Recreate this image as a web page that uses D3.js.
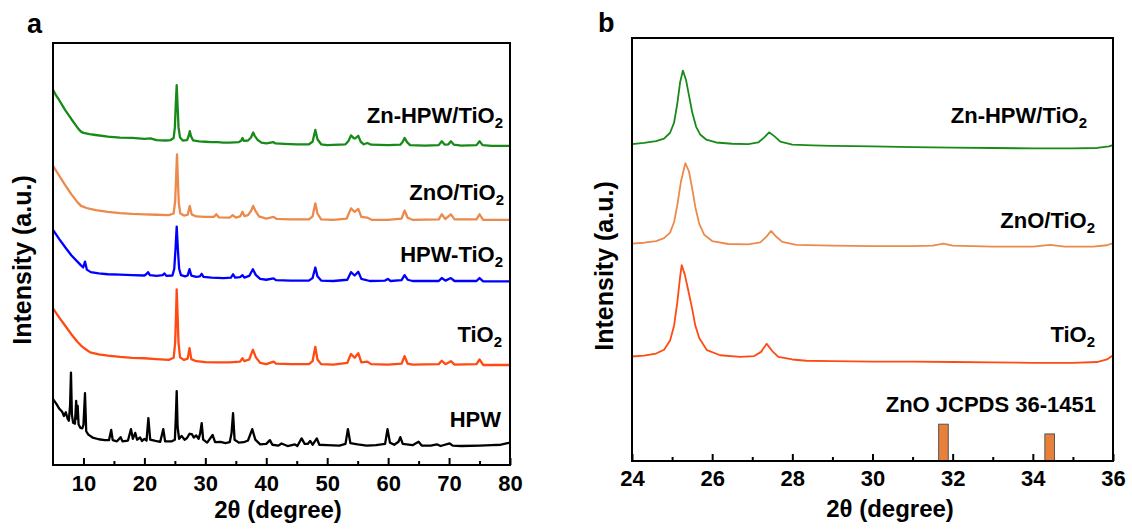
<!DOCTYPE html>
<html>
<head>
<meta charset="utf-8">
<script src="https://cdn.jsdelivr.net/npm/d3@7"></script>
<style>
  body { margin: 0; background: #fff; }
  svg { display: block; }
  text { font-family: Arial, "Liberation Sans", sans-serif; font-weight: bold; fill: #000; }
</style>
</head>
<body>
<div id="chart"></div>
<script>
// ---- panel a: wide scan, 5-80 deg (2theta, intensity a.u.) ----
const hpwA = [[5,15.6],[5.5,14.6],[6,13.4],[6.5,12.6],[6.8,11.6],[7.1,12.5],[7.4,11.0],[7.6,10.5],[7.8,14.0],[7.95,21.9],[8.1,12.0],[8.3,10.0],[8.6,9.8],[8.8,15.2],[8.95,11.0],[9.05,14.0],[9.2,9.6],[9.5,8.8],[9.8,8.7],[10.0,9.5],[10.25,17.0],[10.45,8.0],[10.8,7.2],[11.5,6.5],[12.5,6.1],[13.5,5.9],[14.2,5.9],[14.55,8.3],[14.8,5.9],[15.5,5.6],[16.1,6.6],[16.4,5.6],[17.3,5.8],[17.8,8.5],[18.1,6.2],[18.5,7.6],[18.8,6.0],[19.3,6.5],[19.6,5.7],[20.0,6.2],[20.35,5.8],[20.65,11.1],[20.95,6.0],[21.8,5.7],[22.6,5.5],[23.1,8.5],[23.4,5.6],[24.5,5.6],[25.0,6.0],[25.15,11.0],[25.3,17.5],[25.45,9.0],[25.7,6.2],[26.1,6.9],[26.6,6.0],[27.0,6.4],[27.4,7.4],[27.8,7.3],[28.1,6.5],[28.5,7.0],[28.9,6.2],[29.15,7.5],[29.4,9.9],[29.65,6.0],[30.3,5.3],[31.2,7.1],[31.6,5.4],[32.5,5.5],[33.3,5.2],[34.0,5.4],[34.3,7.5],[34.55,12.3],[34.8,6.0],[35.5,5.3],[36.3,5.4],[37.0,5.8],[37.7,8.5],[38.2,6.0],[39.0,4.9],[40.0,5.0],[40.6,5.9],[41.0,4.8],[42.0,4.6],[42.5,5.1],[43.5,4.5],[44.7,4.9],[45.1,4.5],[45.8,6.3],[46.3,5.0],[46.8,5.0],[47.2,5.7],[47.6,4.8],[48.3,6.3],[48.7,4.8],[50,4.7],[52,4.6],[53.0,5.0],[53.4,8.5],[53.8,5.2],[55,4.9],[56.5,4.6],[58,4.7],[59.5,5.0],[59.9,8.5],[60.3,5.3],[61.0,4.8],[61.7,5.5],[62.0,6.6],[62.4,5.0],[64,4.7],[65.0,5.5],[65.5,4.6],[67,4.6],[68.0,4.9],[68.6,4.5],[70.1,5.1],[70.6,4.6],[72,4.5],[75,4.6],[77,4.7],[78.5,4.8],[80,5.3]];

const tio2A = [[5,37.1],[6,35.0],[7,33.0],[8,31.0],[9,29.2],[9.6,28.3],[10.2,27.6],[11.1,26.7],[12.5,26.2],[14,25.9],[16,25.6],[18,25.4],[20,25.3],[22,25.1],[24,24.9],[24.8,25.4],[25.05,29.0],[25.2,36.0],[25.3,41.6],[25.45,35.5],[25.6,29.0],[25.85,25.5],[26.5,24.9],[27.1,25.2],[27.4,27.7],[27.7,25.1],[28.5,24.6],[30,24.4],[32,24.3],[34,24.3],[35.7,24.5],[36.1,25.3],[36.4,24.6],[37.2,25.0],[37.8,27.3],[38.3,25.5],[39,24.2],[40,23.9],[41.2,24.5],[41.6,24.0],[44,23.9],[47,23.9],[47.6,24.6],[48.05,28.0],[48.4,25.0],[49,23.9],[51,23.8],[53.3,24.2],[53.9,26.3],[54.5,25.4],[55.1,26.5],[55.6,24.3],[56.6,24.5],[57.2,23.9],[60,23.8],[62.2,24.0],[62.7,25.8],[63.2,24.0],[64,23.8],[68.3,23.9],[68.8,24.7],[69.4,23.9],[70.3,24.6],[70.9,23.8],[74.5,23.9],[75,25.0],[75.6,23.7],[80,23.7]];

const hpwTio2A = [[5,55.7],[6,53.6],[7,51.6],[8,49.7],[9,48.2],[9.6,47.3],[9.95,46.8],[10.25,48.2],[10.55,46.3],[11.2,45.7],[12.5,45.4],[14,45.2],[16,45.1],[18,45.0],[20,44.9],[20.3,45.2],[20.6,45.7],[20.9,45.0],[22,44.8],[23,45.0],[23.3,45.4],[23.6,44.8],[24.6,44.9],[24.9,46.5],[25.1,51.0],[25.3,56.5],[25.5,51.0],[25.7,46.5],[26,45.0],[26.7,44.7],[27.1,44.9],[27.4,46.4],[27.7,44.9],[28.5,44.6],[29.1,44.7],[29.4,45.3],[29.7,44.6],[31,44.4],[33,44.3],[34.2,44.4],[34.55,45.2],[34.9,44.4],[35.7,44.5],[36.1,45.0],[36.4,44.4],[37.2,44.8],[37.8,46.4],[38.3,45.0],[39,44.1],[40,43.9],[41.2,44.2],[41.6,43.8],[44,43.7],[47,43.7],[47.6,44.3],[48.05,46.8],[48.4,44.7],[49,43.7],[51,43.6],[53.3,43.9],[53.9,45.7],[54.5,44.9],[55.1,45.8],[55.6,44.1],[57,43.6],[59.5,43.7],[59.95,44.1],[60.4,43.6],[62.2,43.8],[62.7,45.0],[63.2,43.9],[64,43.6],[68.3,43.6],[68.8,44.3],[69.4,43.7],[70.3,44.3],[70.9,43.6],[74.5,43.6],[75,44.3],[75.6,43.5],[80,43.5]];

const znoTio2A = [[5,70.9],[6,68.6],[7,66.3],[8,64.2],[9,62.3],[9.6,61.4],[10.5,60.9],[12,60.4],[14,60.0],[16,59.7],[18,59.5],[20,59.4],[22,59.3],[24,59.2],[24.8,59.6],[25.05,62.5],[25.2,68.0],[25.35,73.6],[25.5,67.5],[25.65,62.0],[25.9,59.6],[26.5,59.1],[27.1,59.3],[27.45,61.4],[27.75,59.4],[28.5,58.9],[30,58.8],[31.4,58.8],[31.8,59.4],[32.2,58.7],[34,58.6],[34.5,59.2],[35,58.6],[35.7,58.9],[36.1,60.0],[36.4,59.0],[37,59.2],[37.5,60.2],[37.85,61.4],[38.2,60.3],[38.8,58.9],[40,58.4],[41.2,58.8],[41.7,58.3],[44,58.2],[47,58.2],[47.6,58.9],[48.05,62.0],[48.4,59.6],[49,58.2],[51,58.1],[53.2,58.4],[53.9,60.8],[54.5,60.0],[55.1,60.7],[55.6,58.8],[56.6,58.6],[57.3,58.1],[60,58.1],[62.2,58.4],[62.7,60.3],[63.2,58.6],[64,58.1],[68.3,58.2],[68.8,59.4],[69.4,58.3],[70.3,59.4],[70.9,58.2],[74.5,58.2],[75,59.4],[75.6,58.1],[80,58.1]];

const znHpwTio2A = [[5,88.9],[5.5,87.6],[6,86.5],[7,84.1],[8,82.0],[8.7,80.6],[9.2,79.6],[9.6,79.0],[10,78.7],[11,78.4],[12,78.2],[14,77.8],[16,77.6],[18,77.5],[20,77.3],[21,77.4],[22,77.0],[23.5,76.9],[24.3,77.0],[24.8,77.5],[25.0,80.0],[25.15,85.5],[25.3,90.0],[25.45,85.0],[25.6,80.0],[25.85,77.6],[26.3,76.9],[27.0,77.0],[27.25,77.9],[27.45,79.1],[27.65,77.9],[28,76.9],[29,76.7],[30,76.6],[31,76.5],[32,76.5],[33,76.4],[34,76.4],[35.5,76.5],[35.9,76.9],[36.1,77.5],[36.3,76.8],[37,76.9],[37.5,77.6],[37.85,78.8],[38.1,78.0],[38.6,77.0],[39.2,76.4],[40,76.2],[41.2,76.5],[41.5,76.2],[43,76.1],[45,76.0],[47,76.0],[47.6,76.6],[48.05,79.4],[48.4,77.2],[49,76.0],[50,75.8],[53,76.0],[53.5,76.8],[53.9,78.1],[54.4,77.4],[54.6,77.4],[55.1,78.0],[55.5,76.6],[56,76.0],[56.6,76.3],[57.2,75.9],[60,75.8],[62,75.9],[62.4,76.6],[62.7,77.5],[63.1,76.5],[63.6,75.8],[66,75.7],[68.3,75.8],[68.8,76.7],[69.3,75.9],[69.9,76.0],[70.3,76.7],[70.8,75.9],[72,75.7],[74.5,75.8],[75,76.7],[75.5,75.8],[77,75.6],[80,75.6]];

// ---- panel b: narrow scan, 24-36 deg ----
const tio2B = [[24.0,24.7],[24.3,24.9],[24.6,25.4],[24.8,26.3],[24.95,28.5],[25.05,32.0],[25.13,37.5],[25.2,43.5],[25.24,46.3],[25.32,44.0],[25.4,40.5],[25.49,36.5],[25.58,32.0],[25.68,29.0],[25.87,26.2],[26.2,25.0],[26.7,24.6],[27.05,24.8],[27.22,25.8],[27.36,27.7],[27.5,26.0],[27.65,24.6],[28.0,24.0],[28.35,23.7],[29,23.6],[30,23.5],[31,23.5],[32,23.4],[33,23.3],[34,23.2],[35,23.2],[35.6,23.4],[35.85,24.0],[36,25.0]];

const znoTio2B = [[24.0,51.4],[24.3,51.6],[24.6,52.0],[24.8,52.7],[24.95,54.0],[25.05,56.5],[25.13,60.5],[25.22,66.0],[25.33,70.4],[25.42,68.5],[25.5,64.5],[25.58,60.0],[25.68,56.0],[25.8,53.5],[26.0,52.0],[26.4,51.3],[26.9,51.2],[27.2,51.7],[27.35,53.0],[27.47,54.4],[27.6,53.0],[27.75,51.8],[28.1,51.1],[29,50.9],[30,50.8],[31,50.8],[31.5,50.9],[31.77,51.4],[32.0,50.9],[33,50.7],[34,50.7],[34.43,51.1],[34.8,50.7],[35.5,50.7],[35.85,51.0],[36,51.5]];

const znHpwTio2B = [[24.0,74.9],[24.3,75.2],[24.6,75.6],[24.8,76.2],[24.95,77.6],[25.05,80.0],[25.13,84.5],[25.2,89.5],[25.27,92.3],[25.35,90.0],[25.42,86.5],[25.5,82.5],[25.6,79.0],[25.7,77.2],[25.85,76.0],[26.1,75.3],[26.5,75.0],[26.9,74.9],[27.15,75.3],[27.3,76.5],[27.42,77.7],[27.55,76.8],[27.7,75.5],[28.0,74.8],[28.5,74.6],[29,74.5],[30,74.4],[31,74.2],[32,74.1],[33,74.0],[34,73.9],[35,73.9],[35.6,74.0],[35.9,74.4],[36,74.7]];

// ZnO reference pattern (JCPDS 36-1451)
const znoRefPos = [31.77, 34.42];
const znoRefInt = [8.7, 6.4];

const majorA = [10, 20, 30, 40, 50, 60, 70, 80];
const minorA = [15, 25, 35, 45, 55, 65, 75];
const majorB = [24, 26, 28, 30, 32, 34, 36];
const minorB = [25, 27, 29, 31, 33, 35];

const svg = d3.select('#chart').append('svg')
    .attr('width', 1132)
    .attr('height', 529);

function addLabel(g, x, y, name, sub, size) {
    const t = g.append('text')
        .attr('x', x)
        .attr('y', y)
        .attr('text-anchor', 'end')
        .attr('font-size', size);
    t.append('tspan').text(name);
    if (sub) {
        t.append('tspan').attr('font-size', size * 0.68).attr('dy', 5).text(sub);
    }
}

function drawPanel(p) {
    const g = svg.append('g').attr('transform', `translate(${p.left},${p.top})`);
    const x = d3.scaleLinear().domain(p.xDomain).range([0, p.width]);
    const y = d3.scaleLinear().domain([0, 100]).range([p.height, 0]);
    const line = d3.line().x(d => x(d[0])).y(d => y(d[1]));

    // patterns
    p.series.forEach(s => {
        g.append('path')
            .datum(s.data)
            .attr('d', line)
            .attr('fill', 'none')
            .attr('stroke', s.color)
            .attr('stroke-width', p.lineWidth)
            .attr('stroke-linejoin', 'round');
        addLabel(g, p.width - s.labelRight, y(s.labelAt), s.name, s.sub, 22);
    });

    // reference bars
    if (p.bars) {
        const bw = x(p.bars.width) - x(0);
        g.selectAll('rect.ref')
            .data(p.bars.pos)
            .enter()
            .append('rect')
            .attr('class', 'ref')
            .attr('x', d => x(d) - bw / 2)
            .attr('y', (d, i) => y(p.bars.val[i]))
            .attr('width', bw)
            .attr('height', (d, i) => y(0) - y(p.bars.val[i]))
            .attr('fill', '#e8803a')
            .attr('stroke', '#555')
            .attr('stroke-width', 1);
        addLabel(g, p.width - p.bars.labelRight, y(p.bars.labelAt), p.bars.name, null, 22);
    }

    // ticks (inward), minor then major
    g.append('g')
        .attr('transform', `translate(0,${p.height})`)
        .call(d3.axisBottom(x).tickValues(p.minor).tickSize(-4).tickFormat(''))
        .call(a => a.select('.domain').remove())
        .selectAll('line').attr('stroke-width', 2);

    const ax = g.append('g')
        .attr('transform', `translate(0,${p.height})`)
        .call(d3.axisBottom(x).tickValues(p.major).tickSize(-7).tickPadding(p.tickPad).tickFormat(d3.format('d')))
        .call(a => a.select('.domain').remove())
        .attr('font-family', 'Arial, "Liberation Sans", sans-serif')
        .attr('font-size', 22)
        .attr('font-weight', 'bold');
    ax.selectAll('line').attr('stroke-width', 2);
    ax.selectAll('text').attr('fill', '#000');

    // frame
    g.append('rect')
        .attr('width', p.width)
        .attr('height', p.height)
        .attr('fill', 'none')
        .attr('stroke', '#000')
        .attr('stroke-width', 2);

    // titles
    svg.append('text')
        .attr('x', p.xTitle[0]).attr('y', p.xTitle[1])
        .attr('text-anchor', 'middle')
        .attr('font-size', 24)
        .text('2θ (degree)');
    svg.append('text')
        .attr('transform', `translate(${p.yTitle[0]},${p.yTitle[1]}) rotate(-90)`)
        .attr('text-anchor', 'middle')
        .attr('font-size', 25)
        .text('Intensity (a.u.)');
    svg.append('text')
        .attr('x', p.tag[0]).attr('y', p.tag[1])
        .attr('font-size', 27)
        .text(p.tagText);
}

drawPanel({
    left: 53, top: 43, width: 457, height: 422,
    xDomain: [5, 80], major: majorA, minor: minorA, tickPad: 10,
    lineWidth: 2.3,
    series: [
        { data: hpwA, color: '#000000', name: 'HPW', sub: null, labelAt: 9.0, labelRight: 9 },
        { data: tio2A, color: '#ff4a12', name: 'TiO', sub: '2', labelAt: 29.1, labelRight: 8 },
        { data: hpwTio2A, color: '#0000ff', name: 'HPW-TiO', sub: '2', labelAt: 48.1, labelRight: 7 },
        { data: znoTio2A, color: '#ec8a4c', name: 'ZnO/TiO', sub: '2', labelAt: 62.8, labelRight: 6 },
        { data: znHpwTio2A, color: '#178a17', name: 'Zn-HPW/TiO', sub: '2', labelAt: 81.0, labelRight: 7 }
    ],
    xTitle: [278, 518], yTitle: [31, 260], tag: [27, 33], tagText: 'a'
});

drawPanel({
    left: 632, top: 38, width: 481, height: 423,
    xDomain: [24, 36], major: majorB, minor: minorB, tickPad: 9,
    lineWidth: 1.8,
    series: [
        { data: tio2B, color: '#ff4a12', name: 'TiO', sub: '2', labelAt: 28.1, labelRight: 18 },
        { data: znoTio2B, color: '#ec8a4c', name: 'ZnO/TiO', sub: '2', labelAt: 55.1, labelRight: 18 },
        { data: znHpwTio2B, color: '#178a17', name: 'Zn-HPW/TiO', sub: '2', labelAt: 79.8, labelRight: 26 }
    ],
    bars: { pos: znoRefPos, val: znoRefInt, width: 0.24, name: 'ZnO JCPDS 36-1451', labelAt: 11.6, labelRight: 17 },
    xTitle: [890, 517], yTitle: [613, 266], tag: [598, 32], tagText: 'b'
});
</script>
</body>
</html>
